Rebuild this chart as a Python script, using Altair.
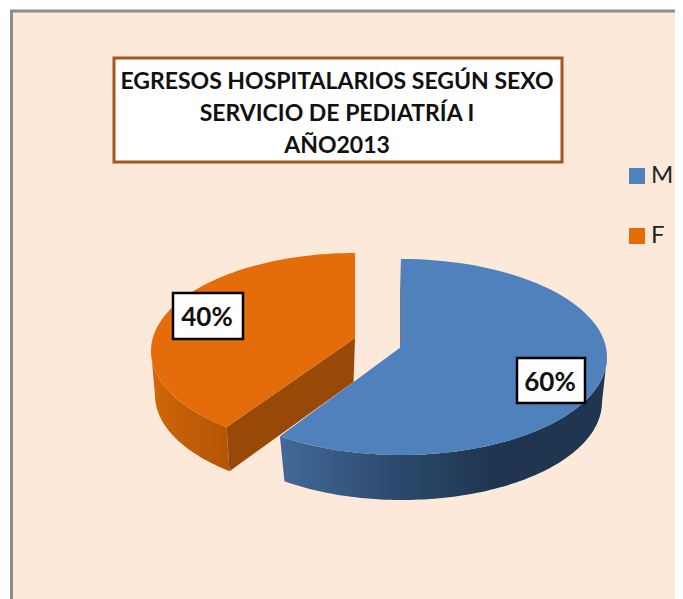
import numpy as np
import pandas as pd
import altair as alt

# ---- chart values ----
categories = ["M", "F"]
shares = [60, 40]
slice_labels = ["60%", "40%"]
title_lines = ["EGRESOS HOSPITALARIOS SEGÚN SEXO", "SERVICIO DE PEDIATRÍA I", "AÑO2013"]
slice_colors = ["#4F81BD", "#E46C0A"]

# ---- page layout (page pixels) ----
OFF = 8
W, H = 667, 591
F = "Lato"
RX, RY = 206, 98
ORANGE_SKEW = 3


def sx(x):
    return float(x) - OFF


def rim(cx, cy, rx, ry, a0, a1):
    a = np.radians(np.linspace(a0, a1, 90))
    return [[sx(cx + rx * np.sin(t)), sx(cy - ry * np.cos(t))] for t in a]


def feature(points, name):
    pts = points + [points[0]]
    return {"type": "Feature", "properties": {"name": name},
            "geometry": {"type": "Polygon", "coordinates": [pts]}}


end_m = shares[0] / sum(shares) * 360

# slices from shares
top_m = feature([[sx(401), sx(347)]] + rim(401, 357, RX, RY, 0, end_m), categories[0])
wall_m = feature(rim(401, 357, RX, RY, 90, end_m) + rim(402, 402, 200, RY, end_m, 90), "M wall")
sliver_m = feature([[sx(400.4), sx(259)], [sx(402), sx(347)], [sx(400.4), sx(349)]], "M cut")

a_f = end_m + ORANGE_SKEW
top_f = feature([[sx(355), sx(338)]] + rim(355, 351, 204, RY, a_f, 360), categories[1])
wall_f = feature(rim(355, 351, 204, RY, a_f, 270) + rim(356, 395, 201, RY, 270, a_f), "F wall")
tip = rim(355, 351, 204, RY, a_f, a_f)[0]
tip_b = rim(356, 395, 201, RY, a_f, a_f)[0]
cut_f = feature([tip, [sx(355), sx(338)], [sx(353.5), sx(382)], tip_b], "F cut")

proj = alt.Projection(type="identity", scale=1, translate=[0, 0])


def shape(feat_list, **kw):
    return alt.Chart(alt.Data(values=feat_list)).mark_geoshape(**kw).project(**proj.to_dict())


xs = alt.Scale(domain=[0, W], range=[0, W])
ys = alt.Scale(domain=[0, H], range=[0, H])


def box(x0, y0, x1, y1, fill, stroke, sw):
    d = pd.DataFrame({"x": [sx(x0)], "x2": [sx(x1)], "y": [sx(y0)], "y2": [sx(y1)]})
    return alt.Chart(d).mark_rect(fill=fill, stroke=stroke, strokeWidth=sw).encode(
        x=alt.X("x:Q", scale=xs, axis=None), x2="x2:Q",
        y=alt.Y("y:Q", scale=ys, axis=None), y2="y2:Q")


def texts(vals, xp, yp, size, weight="bold"):
    d = pd.DataFrame({"t": vals, "x": [sx(v) for v in xp], "y": [sx(v) for v in yp]})
    return alt.Chart(d).mark_text(font=F, fontSize=size, fontWeight=weight, color="#111111",
                                  align="center", baseline="middle").encode(
        x=alt.X("x:Q", scale=xs, axis=None), y=alt.Y("y:Q", scale=ys, axis=None), text="t:N")


panel = box(11.5, 11, 760, 680, "#FDE9D9", "#8C8C8C", 3)
title_box = box(114, 58, 562, 162, "#FFFFFF", "#A5561B", 3)
title_text = texts(title_lines, [337] * 3, [81.5, 113.5, 145.5], 23)

wall_f_grad = alt.Gradient(gradient="linear", x1=0, x2=1, y1=0, y2=0,
                           stops=[alt.GradientStop(color="#CF6609", offset=0),
                                  alt.GradientStop(color="#B35505", offset=1)])
wall_m_grad = alt.Gradient(gradient="linear", x1=0, x2=1, y1=0, y2=0,
                           stops=[alt.GradientStop(color="#42699A", offset=0),
                                  alt.GradientStop(color="#2C4A6E", offset=0.35),
                                  alt.GradientStop(color="#1F3550", offset=0.65),
                                  alt.GradientStop(color="#1F3550", offset=1)])

tops = alt.Chart(alt.Data(values=[top_f, top_m])).mark_geoshape(stroke=None).project(
    **proj.to_dict()).encode(
    color=alt.Color("properties.name:N",
                    scale=alt.Scale(domain=categories, range=slice_colors),
                    legend=alt.Legend(title=None, orient="none", legendX=617, legendY=156,
                                      symbolType="square", symbolSize=256, symbolStrokeWidth=0,
                                      symbolOpacity=1, labelFont=F, labelFontSize=24,
                                      labelColor="#222222", rowPadding=36, labelOffset=2,
                                      padding=0)))

layers = [
    panel, title_box, title_text,
    shape([cut_f], fill="#984807", stroke=None),
    shape([wall_f], fill=wall_f_grad, stroke=None),
    shape([wall_m], fill=wall_m_grad, stroke=None),
    shape([sliver_m], fill="#1F3550", stroke=None),
    tops,
    box(173, 293, 243, 339, "#FFFFFF", "#000000", 2.5),
    box(517, 358, 585, 403, "#FFFFFF", "#000000", 2.5),
    texts([slice_labels[1], slice_labels[0]], [207, 550], [318, 383], 26),
]

chart = alt.layer(*layers).resolve_scale(color="independent").properties(
    width=W, height=H, padding=0, background="#FFFFFF",
    autosize=alt.AutoSizeParams(type="none")
).configure_view(stroke=None)

chart.save("out.html", embed_options={"renderer": "svg", "actions": False})
